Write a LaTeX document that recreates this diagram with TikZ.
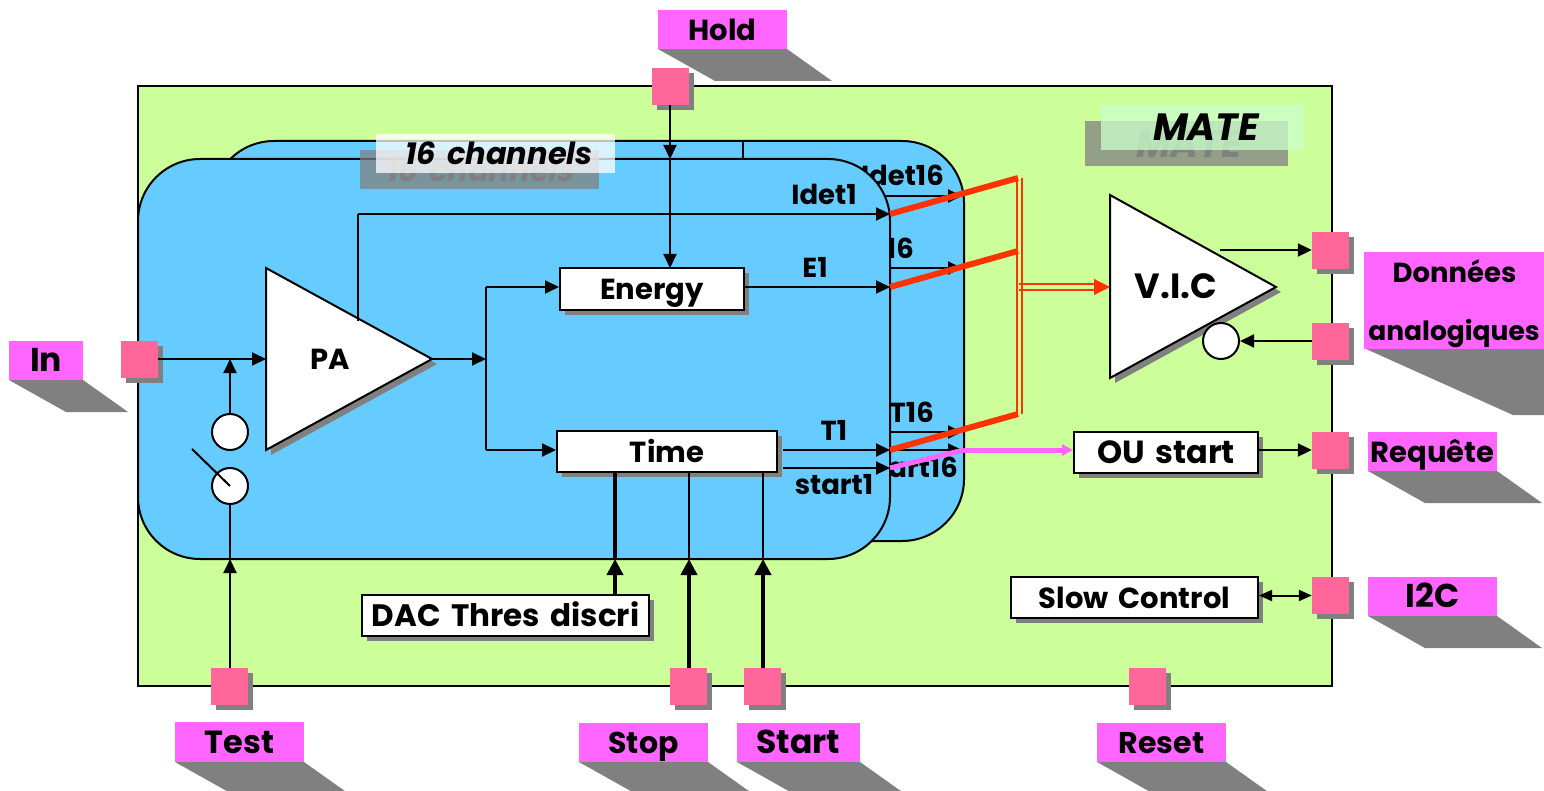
\documentclass[tikz,border=0pt]{standalone}
\usepackage{fontspec}
\setmainfont{Poppins}[WordSpace=1.6]
\usetikzlibrary{arrows.meta,shadows}
\definecolor{matecol}{HTML}{CCFF99}
\definecolor{chancol}{HTML}{66CCFF}
\definecolor{tagcol}{HTML}{FF66FF}
\definecolor{padcol}{HTML}{FF6699}
\definecolor{redcol}{HTML}{FF3300}
\tikzset{
    shade/.style={drop shadow={shadow xshift=5pt,shadow yshift=-5pt,fill=gray,opacity=1}},
    pad/.style={shade,fill=padcol,minimum size=37pt,inner sep=0pt},
    block/.style={shade,draw,fill=white,line width=2pt,inner sep=0pt,text height=26pt,text depth=4pt,font=\fontsize{29}{32}\selectfont\bfseries},
    amp/.style={shade,draw,fill=white,line width=2pt},
    chan/.style={draw,fill=chancol,line width=2pt,rounded corners=62pt},
    sig/.style={line width=2pt,-{Triangle[length=14pt,width=13pt]}},
    wire/.style={line width=2pt},
    bus/.style={line width=4pt,-{Triangle[length=16pt,width=16pt]}},
    lbl/.style={inner sep=0pt,font=\fontsize{27.5}{30}\selectfont\bfseries},
    tag/.style={inner sep=0pt,text height=26pt,text depth=4pt,font=\fontsize{29}{32}\selectfont\bfseries},
    title/.style={inner sep=0pt,font=\fontsize{30.5}{36}\selectfont\bfseries\itshape},
    hole/.style={circle,draw,fill=white,line width=2pt,minimum size=36pt,inner sep=0pt}
}
\begin{document}
\begin{tikzpicture}[x=1pt,y=-1pt]
    \clip (0,0) rectangle (1544,791);
    \fill[white] (0,0) rectangle (1544,791);
    % board
    \draw[fill=matecol,line width=2pt] (138,86) rectangle (1332,686);
    % channel 16, behind
    \draw[chan] (212,141) rectangle (964,541);
    \draw[wire] (743,141) -- (743,159);
    \node[lbl,anchor=east] (idetb) at (944,175) {Idet16};
    \node[lbl,anchor=east] (eb) at (914,248) {E16};
    \node[lbl,anchor=east] (tb) at (934,412) {T16};
    \node[lbl,anchor=east] (startb) at (958,467) {start16};
    \coordinate (backa) at (880,196);
    \coordinate (backb) at (880,268);
    \coordinate (backc) at (880,432);
    \coordinate (backd) at (880,450);
    \draw[sig] (backa) -- (962,196);
    \draw[sig] (backb) -- (962,268);
    \draw[sig] (backc) -- (962,432);
    \draw[sig] (backd) -- (962,450);
    % channel 1
    \draw[chan] (138,159) rectangle (890,559);
    % tags with their slanted shadows
    \foreach \nm/\xa/\ya/\xb/\yb/\fs/\txt in {tagin/9/341/83/380/33/In,taghold/658/10/787/49/29/Hold,tagtest/175/722/304/762/32/Test,
        tagstop/579/723/708/762/30/Stop,tagstart/737/723/860/762/33/Start,tagreset/1097/723/1226/762/30/Reset,
        tagreq/1368/432/1497/471/29/Requête,tagi/1368/577/1497/616/33/I2C}{
        \fill[gray] (\xa,\yb) -- (\xb,\yb) -- (\xb+45,\yb+32) -- (\xa+57,\yb+32) -- cycle;
        \fill[tagcol] (\xa,\ya) rectangle (\xb,\yb);
        \node[tag,font=\fontsize{\fs}{32}\selectfont\bfseries] (\nm) at ({(\xa+\xb)/2},{(\ya+\yb)/2}) {\txt};
    }
    \fill[gray] (1366,349) -- (1544,349) -- (1544,415) -- (1513,415) -- cycle;
    \fill[tagcol] (1364,252) rectangle (1544,349);
    \node[tag,font=\fontsize{27.5}{32}\selectfont\bfseries] (tagdon) at (1454.5,272) {Données};
    \node[tag,font=\fontsize{26.5}{32}\selectfont\bfseries] (tagana) at (1454,330) {analogiques};
    % pads
    \node[pad] (pin) at (139.5,359.5) {};
    \node[pad] (phold) at (670.5,86.5) {};
    \node[pad] (ptest) at (229.5,686.5) {};
    \node[pad] (pstop) at (688.5,686.5) {};
    \node[pad] (pstart) at (762.5,686.5) {};
    \node[pad] (preset) at (1147.5,686.5) {};
    \node[pad] (pout) at (1330.5,250.5) {};
    \node[pad] (pback) at (1330.5,341.5) {};
    \node[pad] (preq) at (1330.5,450.5) {};
    \node[pad] (pi) at (1330.5,595.5) {};
    % amplifiers
    \draw[amp] (266,268) -- (432,359) -- (266,450) -- cycle;
    \node[tag] (pa) at (330,359) {PA};
    \draw[amp] (1110,195) -- (1276,287) -- (1110,378) -- cycle;
    \node[tag,font=\fontsize{35}{38}\selectfont\bfseries] (vic) at (1176,288) {V.I.C};
    % blocks
    \node[block,minimum width=184pt,minimum height=42pt] (energy) at (652,289) {Energy};
    \node[block,minimum width=220pt,minimum height=41pt] (time) at (667,451.5) {Time};
    \node[block,minimum width=287pt,minimum height=41pt,font=\fontsize{31}{34}\selectfont\bfseries] (dac) at (505.5,615.5) {DAC Thres discri};
    \node[block,minimum width=247pt,minimum height=41pt] (slow) at (1134.5,597.5) {Slow Control};
    \node[block,minimum width=184pt,minimum height=41pt,font=\fontsize{32}{34}\selectfont\bfseries] (ou) at (1166,452.5) {OU start};
    \node[hole] (hup) at (230,432) {};
    \node[hole] (hlow) at (230,486) {};
    \node[hole] (hvic) at (1221,341) {};
    % named points on the wires
    \coordinate (pain) at (266,359);
    \coordinate (paout) at (432,359);
    \coordinate (patop) at (358,321);
    \coordinate (join) at (486,359);
    \coordinate (ene) at (486,287);
    \coordinate (tim) at (486,450);
    \coordinate (idet) at (890,214);
    \coordinate (eo) at (890,287);
    \coordinate (to) at (890,450);
    \coordinate (so) at (890,468);
    \coordinate (timea) at (783,450);
    \coordinate (timeb) at (783,468);
    \coordinate (redan) at (1018,178);
    \coordinate (redb) at (1018,251);
    \coordinate (redc) at (1018,414);
    \coordinate (vicin) at (1110,287);
    \coordinate (vicout) at (1220,250);
    \coordinate (magb) at (964,450);
    \coordinate (swtip) at (192,449);
    % input side
    \draw[sig] (pin.east |- pain) -- (pain);
    \draw[sig] (hup.north) -- (230,359);
    \draw[sig] (ptest.north -| 230,0) -- (230,559);
    \draw[wire] (230,559) -- (hlow.south);
    \draw[wire] (hlow.center) -- (swtip);
    % after the preamp
    \draw[sig] (paout) -- (join);
    \draw[wire] (ene) -- (tim);
    \draw[sig] (ene) -- (energy.west |- ene);
    \draw[sig] (tim) -- (time.west |- tim);
    \draw[wire] (patop) -- (358,214);
    \draw[sig] (358,214) -- (idet);
    \draw[sig] (energy.east |- eo) -- (eo);
    \draw[sig] (timea) -- (to);
    \draw[sig] (timeb) -- (so);
    % hold
    \draw[sig] (phold.south -| 670,0) -- (670,159);
    \draw[sig] (670,159) -- (670,268);
    % control lines under time
    \draw[line width=4pt] (615,473) -- (615,559);
    \draw[bus] (dac.north -| 615,0) -- (615,559);
    \draw[wire] (689,473) -- (689,559);
    \draw[bus] (pstop.north -| 689,0) -- (689,559);
    \draw[wire] (763,473) -- (763,559);
    \draw[bus] (pstart.north -| 763,0) -- (763,559);
    % labels of channel 1
    \node[lbl] (idetl) at (824,194) {Idet1};
    \node[lbl] (el) at (815,267) {E1};
    \node[lbl] (tl) at (834,430) {T1};
    \node[lbl] (sl) at (834,485) {start1};
    % outputs
    \draw[redcol,line width=6pt] (idet) -- (redan);
    \draw[redcol,line width=6pt] (eo) -- (redb);
    \draw[redcol,line width=6pt] (to) -- (redc);
    \draw[redcol,line width=2pt] (1017,178) -- (1017,414);
    \draw[redcol,line width=2pt] (1022,178) -- (1022,414);
    \draw[redcol,line width=2pt] (1019,284) -- (1095,284);
    \draw[redcol,line width=2pt] (1019,290) -- (1095,290);
    \draw[redcol,line width=1pt,-{Triangle[length=16pt,width=16pt]}] (1094,287) -- (vicin);
    \draw[tagcol,line width=5pt] (so) -- (magb);
    \draw[tagcol,line width=5pt,-{Triangle[length=11pt,width=11pt]}] (magb) -- (ou.west |- magb);
    \draw[sig] (vicout) -- (pout.west |- vicout);
    \draw[sig] (pback.west |- hvic.east) -- (hvic.east);
    \draw[sig] (ou.east |- to) -- (preq.west |- to);
    \draw[wire,{Triangle[length=13pt,width=11pt]}-{Triangle[length=13pt,width=11pt]}] (slow.east |- pi.west) -- (pi.west);
    % titles, with a shadow plate
    \fill[gray,opacity=.75] (360,150) rectangle (599,189);
    \node[title,gray] (chanb) at (481,170) {16 channels};
    \fill[white,opacity=.75] (376,134) rectangle (615,173);
    \node[title] (chanl) at (499,153) {16 channels};
    \fill[gray,opacity=.75] (1085,121) rectangle (1288,166);
    \node[title,gray,font=\fontsize{38}{40}\selectfont\bfseries\itshape] (mateb) at (1189,144) {MATE};
    \fill[green!20!white,opacity=.75] (1101,105) rectangle (1304,150);
    \node[title,font=\fontsize{38}{40}\selectfont\bfseries\itshape] (matel) at (1206,127) {MATE};
\end{tikzpicture}
\end{document}
